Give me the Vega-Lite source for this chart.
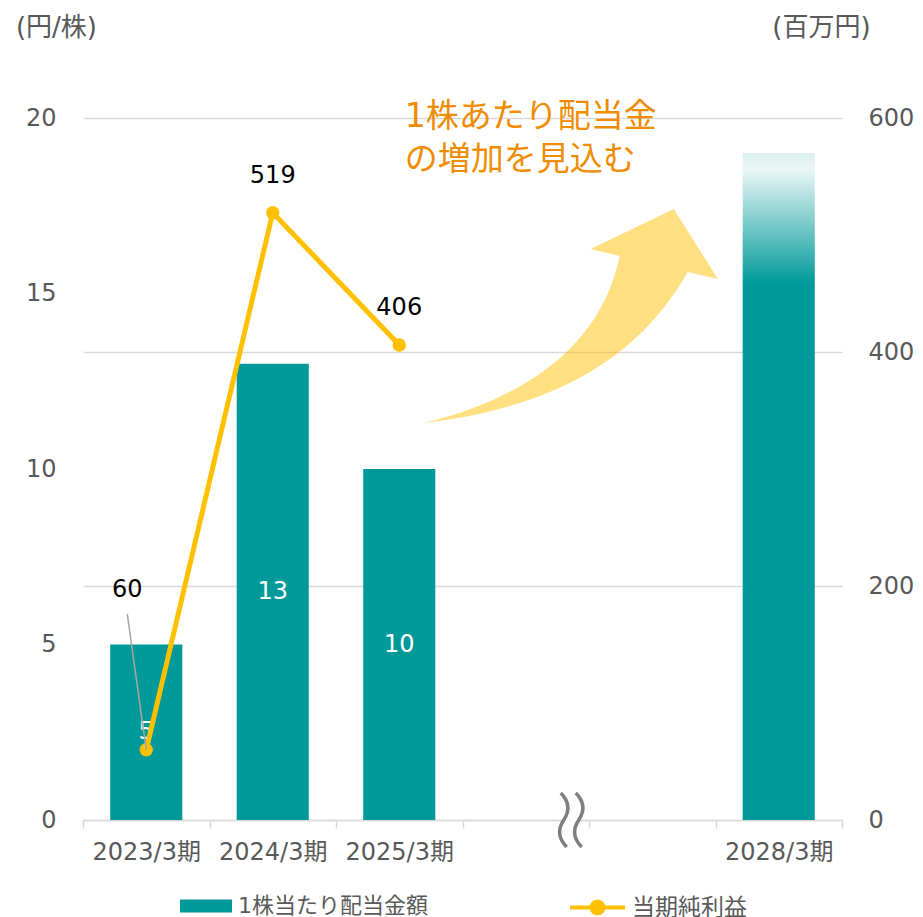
{
  "$schema": "https://vega.github.io/schema/vega-lite/v6.json",
  "width": 759,
  "height": 702,
  "autosize": {"type": "none"},
  "padding": {"left": 83, "top": 118, "right": 81, "bottom": 97},
  "background": "white",
  "config": {
    "font": "DejaVu Sans, Noto Sans CJK JP",
    "view": {"stroke": null},
    "axis": {
      "labelFont": "DejaVu Sans, Noto Sans CJK JP",
      "titleFont": "DejaVu Sans, Noto Sans CJK JP",
      "labelFontSize": 24,
      "labelColor": "#595959",
      "titleFontSize": 26,
      "titleFontWeight": "normal",
      "titleColor": "#595959"
    },
    "legend": {
      "labelFont": "DejaVu Sans, Noto Sans CJK JP",
      "labelFontSize": 22,
      "labelColor": "#595959",
      "labelLimit": 400,
      "padding": 0
    }
  },
  "datasets": {
    "main": [
      {"period": "2023/3期", "dps": 5, "profit": 60},
      {"period": "2024/3期", "dps": 13, "profit": 519},
      {"period": "2025/3期", "dps": 10, "profit": 406},
      {"period": "2028/3期", "dps": 19, "profit": null}
    ]
  },
  "encoding": {
    "x": {
      "field": "period",
      "type": "nominal",
      "sort": null,
      "scale": {
        "domain": ["2023/3期", "2024/3期", "2025/3期", "gap1", "gap2", "2028/3期"],
        "paddingInner": 0,
        "paddingOuter": 0
      },
      "axis": {
        "title": null,
        "labelAngle": 0,
        "labelExpr": "datum.label == 'gap1' || datum.label == 'gap2' ? '' : datum.label",
        "domainColor": "#d9d9d9",
        "domainWidth": 1.5,
        "tickColor": "#d9d9d9",
        "tickWidth": 1.5,
        "tickSize": 8,
        "tickBand": "extent",
        "labelPadding": 12,
        "grid": false
      }
    }
  },
  "layer": [
    {
      "layer": [
        {
          "data": {"name": "main"},
          "transform": [{"filter": "datum.period != '2028/3期'"}],
          "mark": {"type": "bar", "width": {"band": 0.57}},
          "encoding": {
            "y": {
              "field": "dps",
              "type": "quantitative",
              "scale": {"domain": [0, 20]},
              "axis": {
                "orient": "left",
                "values": [0, 5, 10, 15, 20],
                "domain": false,
                "ticks": false,
                "grid": false,
                "labelPadding": 27,
                "title": "(円/株)",
                "titleAngle": 0,
                "titleAlign": "center",
                "titleBaseline": "middle",
                "titleX": -27,
                "titleY": -91
              }
            },
            "fill": {
              "datum": "1株当たり配当金額",
              "scale": {"range": ["#009999"]},
              "legend": {
                "orient": "none",
                "legendX": 97,
                "legendY": 762,
                "title": null,
                "symbolType": "M-1,-0.25L1,-0.25L1,0.25L-1,0.25Z",
                "symbolSize": 2704,
                "symbolStrokeWidth": 0,
                "labelOffset": 6,
                "labelFontSize": 22
              }
            }
          }
        },
        {
          "data": {"name": "main"},
          "transform": [{"filter": "datum.period == '2028/3期'"}],
          "mark": {
            "type": "bar",
            "width": {"band": 0.57},
            "color": {
              "gradient": "linear",
              "x1": 0, "y1": 1, "x2": 0, "y2": 0,
              "stops": [
                {"offset": 0, "color": "#009999"},
                {"offset": 0.805, "color": "#009999"},
                {"offset": 0.82, "color": "#15A2A2"},
                {"offset": 0.975, "color": "#EAF6F6"},
                {"offset": 1, "color": "#DDEFEF"}
              ]
            }
          },
          "encoding": {
            "y": {"field": "dps", "type": "quantitative", "scale": {"domain": [0, 20]}}
          }
        },
        {
          "data": {"name": "main"},
          "transform": [
            {"filter": "datum.period != '2028/3期'"},
            {"calculate": "datum.dps / 2", "as": "mid"}
          ],
          "mark": {"type": "text", "color": "white", "fontSize": 24, "baseline": "middle"},
          "encoding": {
            "y": {"field": "mid", "type": "quantitative", "scale": {"domain": [0, 20]}},
            "text": {"field": "dps", "type": "quantitative"}
          }
        },
        {
          "data": {"values": [{"period": "gap1", "v": 14.36}]},
          "mark": {
            "type": "point",
            "shape": "M-0.98,0.713C-0.3,0.55,0.2,0.2,0.327,-0.4L0.133,-0.447L0.687,-0.713L0.98,-0.247L0.78,-0.293C0.5,0.2,0,0.6,-0.98,0.713Z",
            "size": 90000,
            "filled": true,
            "fill": "#FFC000",
            "fillOpacity": 0.5,
            "opacity": 1,
            "strokeWidth": 0,
            "xOffset": 45
          },
          "encoding": {
            "y": {"field": "v", "type": "quantitative", "scale": {"domain": [0, 20]}}
          }
        },
        {
          "data": {"values": [{"period": "gap1", "v": 20}]},
          "mark": {
            "type": "text",
            "text": ["1株あたり配当金", "の増加を見込む"],
            "color": "#F08C00",
            "fontSize": 33,
            "align": "left",
            "baseline": "middle",
            "lineHeight": 43,
            "dx": -121,
            "dy": -1
          },
          "encoding": {
            "y": {"field": "v", "type": "quantitative", "scale": {"domain": [0, 20]}}
          }
        },
        {
          "data": {"values": [{"period": "gap1", "v": 0}]},
          "mark": {
            "type": "point",
            "shape": "M-0.4,-0.9C-0.1,-0.6,-0.1,-0.3,-0.3,0C-0.5,0.3,-0.5,0.6,-0.2,0.9L0.3,0.9C0,0.6,0,0.3,0.2,0C0.4,-0.3,0.4,-0.6,0.1,-0.9Z",
            "size": 3600,
            "filled": true,
            "fill": "white",
            "opacity": 1,
            "strokeWidth": 0,
            "xOffset": 47
          },
          "encoding": {
            "y": {"field": "v", "type": "quantitative", "scale": {"domain": [0, 20]}}
          }
        },
        {
          "data": {"values": [{"period": "gap1", "v": 0}]},
          "mark": {
            "type": "point",
            "shape": "M-0.4,-0.9C-0.1,-0.6,-0.1,-0.3,-0.3,0C-0.5,0.3,-0.5,0.6,-0.2,0.9M0.1,-0.9C0.4,-0.6,0.4,-0.3,0.2,0C0,0.3,0,0.6,0.3,0.9",
            "size": 3600,
            "filled": false,
            "stroke": "#7f7f7f",
            "strokeWidth": 3.5,
            "opacity": 1,
            "xOffset": 47
          },
          "encoding": {
            "y": {"field": "v", "type": "quantitative", "scale": {"domain": [0, 20]}}
          }
        }
      ]
    },
    {
      "layer": [
        {
          "data": {"name": "main"},
          "transform": [{"filter": "isValid(datum.profit)"}],
          "mark": {"type": "line", "strokeWidth": 5},
          "encoding": {
            "y": {
              "field": "profit",
              "type": "quantitative",
              "scale": {"domain": [0, 600]},
              "axis": {
                "orient": "right",
                "values": [0, 200, 400, 600],
                "domain": false,
                "ticks": false,
                "grid": true,
                "gridColor": "#d9d9d9",
                "gridWidth": 1.5,
                "labelPadding": 26,
                "title": "(百万円)",
                "titleAngle": 0,
                "titleAlign": "center",
                "titleBaseline": "middle",
                "titleX": -21,
                "titleY": -91
              }
            },
            "stroke": {
              "datum": "当期純利益",
              "scale": {"range": ["#FFC000"]},
              "legend": {
                "orient": "none",
                "legendX": 485,
                "legendY": 760,
                "title": null,
                "symbolType": "M-1,0L1,0M0.22,0L0.19,0.11L0.11,0.19L0,0.22L-0.11,0.19L-0.19,0.11L-0.22,0L-0.19,-0.11L-0.11,-0.19L0,-0.22L0.11,-0.19L0.19,-0.11Z",
                "symbolSize": 3025,
                "symbolStrokeWidth": 4,
                "labelOffset": 5,
                "labelFontSize": 23,
                "encode": {"symbols": {"update": {"fill": {"value": "#FFC000"}}}}
              }
            }
          }
        },
        {
          "data": {"name": "main"},
          "transform": [{"filter": "isValid(datum.profit)"}],
          "mark": {"type": "point", "filled": true, "size": 180, "color": "#FFC000", "opacity": 1},
          "encoding": {
            "y": {"field": "profit", "type": "quantitative", "scale": {"domain": [0, 600]}}
          }
        },
        {
          "data": {"name": "main"},
          "transform": [{"filter": "datum.period == '2024/3期' || datum.period == '2025/3期'"}],
          "mark": {"type": "text", "fontSize": 24, "color": "black", "baseline": "middle", "dy": -37},
          "encoding": {
            "y": {"field": "profit", "type": "quantitative", "scale": {"domain": [0, 600]}},
            "text": {"field": "profit", "type": "quantitative"}
          }
        },
        {
          "data": {"name": "main"},
          "transform": [{"filter": "datum.period == '2023/3期'"}],
          "mark": {"type": "text", "fontSize": 24, "color": "black", "baseline": "middle", "dx": -19, "dy": -160},
          "encoding": {
            "y": {"field": "profit", "type": "quantitative", "scale": {"domain": [0, 600]}},
            "text": {"field": "profit", "type": "quantitative"}
          }
        },
        {
          "data": {"name": "main"},
          "transform": [{"filter": "datum.period == '2023/3期'"}],
          "mark": {"type": "rule", "color": "#a6a6a6", "strokeWidth": 1.5, "x2Offset": -19, "y2Offset": -136},
          "encoding": {
            "x2": {"field": "period"},
            "y": {"field": "profit", "type": "quantitative", "scale": {"domain": [0, 600]}},
            "y2": {"field": "profit"}
          }
        }
      ]
    }
  ],
  "resolve": {"scale": {"y": "independent"}}
}
